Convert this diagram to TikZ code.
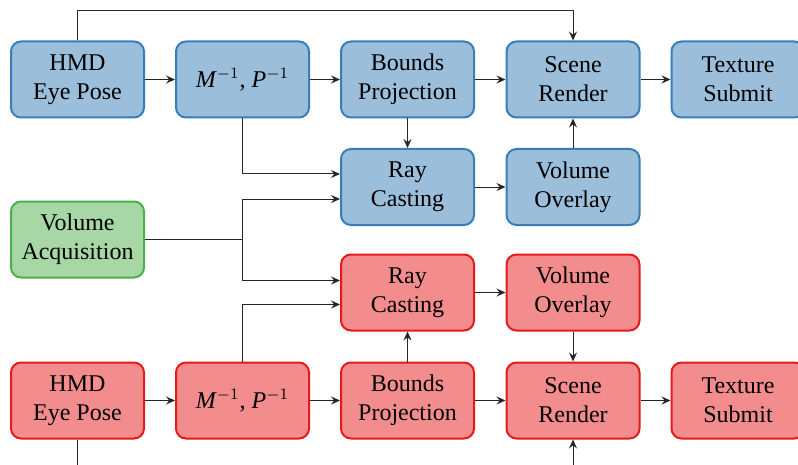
\documentclass[tikz,border=0pt]{standalone}
\usepackage{fontspec}
\setmainfont{Liberation Serif}
\newfontfamily\boxfont{Liberation Serif}
\usetikzlibrary{arrows.meta,calc}

\definecolor{setblue}{HTML}{377EB8}
\definecolor{setred}{HTML}{E41A1C}
\definecolor{setgreen}{HTML}{4DAF4A}

\tikzset{
  stage/.style={rectangle, rounded corners=5pt, line width=1pt,
    minimum width=66.5pt, minimum height=38pt, align=center,
    font=\boxfont\fontsize{12}{14.5}\selectfont, inner sep=2pt},
  bluebox/.style={stage, draw=setblue, fill=setblue!50},
  redbox/.style={stage, draw=setred, fill=setred!50},
  greenbox/.style={stage, draw=setgreen, fill=setgreen!50},
  flow/.style={line width=0.5pt, draw=black!85,
    -{Stealth[length=4.5pt, width=4pt, inset=1.6pt]}},
  wire/.style={line width=0.5pt, draw=black!85},
}

\newcommand{\invmat}{\textit{M}$^{-1}$, \textit{P}$^{-1}$}

\begin{document}
\begin{tikzpicture}[x=0.5pt, y=-0.5pt]
  \useasboundingbox (0,0) rectangle (798,465);

  % upper (blue) pipeline
  \node[bluebox] (bhmd) at (77.5,79.5)  {HMD\\Eye Pose};
  \node[bluebox] (bmat) at (242.5,79.5) {\invmat};
  \node[bluebox] (bbnd) at (407.5,79.5) {Bounds\\Projection};
  \node[bluebox] (bscn) at (573,79.5)   {Scene\\Render};
  \node[bluebox] (btex) at (738,79.5)   {Texture\\Submit};
  \node[bluebox] (bray) at (407.5,187) {Ray\\Casting};
  \node[bluebox] (bovl) at (573,187)   {Volume\\Overlay};

  % shared volume source
  \node[greenbox] (vacq) at (77.5,239.5) {Volume\\Acquisition};

  % lower (red) pipeline
  \node[redbox] (rray) at (407.5,292.5) {Ray\\Casting};
  \node[redbox] (rovl) at (573,292.5)   {Volume\\Overlay};
  \node[redbox] (rhmd) at (77.5,400.5)  {HMD\\Eye Pose};
  \node[redbox] (rmat) at (242.5,400.5) {\invmat};
  \node[redbox] (rbnd) at (407.5,400.5) {Bounds\\Projection};
  \node[redbox] (rscn) at (573,400.5)   {Scene\\Render};
  \node[redbox] (rtex) at (738,400.5)   {Texture\\Submit};

  \coordinate (topline) at (0,11);
  \coordinate (botline) at (0,470);
  \coordinate (vsplit) at (bmat.south |- vacq.east);

  % blue connections
  \draw[flow] (bhmd) -- (bmat);
  \draw[flow] (bmat) -- (bbnd);
  \draw[flow] (bbnd) -- (bscn);
  \draw[flow] (bscn) -- (btex);
  \draw[flow] (bbnd) -- (bray);
  \draw[flow] (bray) -- (bovl);
  \draw[flow] (bovl) -- (bscn);
  \draw[flow] (bhmd.north) -- (bhmd.north |- topline) -| (bscn.north);
  \draw[flow] (bmat.south) |- ([yshift=6.5pt]bray.west);

  % volume feeds both ray casters
  \draw[wire] (vacq.east) -- (vsplit);
  \draw[flow] (vsplit) |- ([yshift=-6pt]bray.west);
  \draw[flow] (vsplit) |- ([yshift=6pt]rray.west);

  % red connections
  \draw[flow] (rhmd) -- (rmat);
  \draw[flow] (rmat) -- (rbnd);
  \draw[flow] (rbnd) -- (rscn);
  \draw[flow] (rscn) -- (rtex);
  \draw[flow] (rbnd) -- (rray);
  \draw[flow] (rray) -- (rovl);
  \draw[flow] (rovl) -- (rscn);
  \draw[flow] (rmat.north) |- ([yshift=-6pt]rray.west);
  \draw[wire] (rhmd.south) -- (rhmd.south |- botline);
  \draw[flow] (rscn.south |- botline) -- (rscn.south);
\end{tikzpicture}
\end{document}
